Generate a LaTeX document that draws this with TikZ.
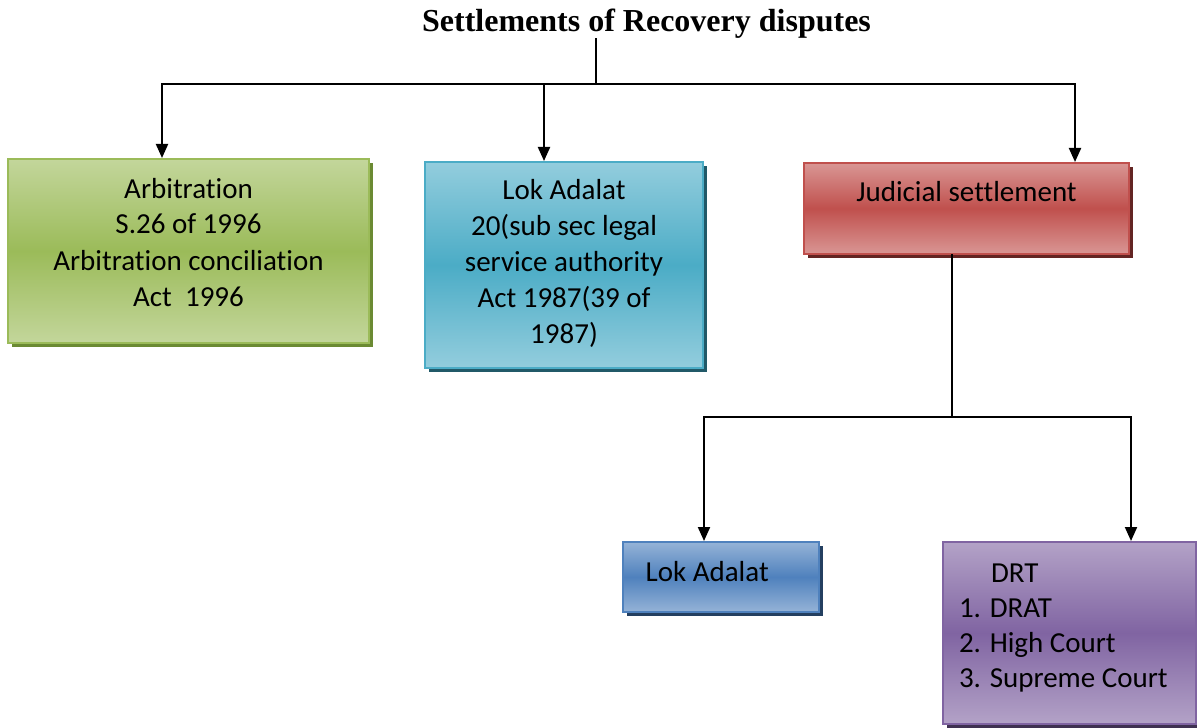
\documentclass[tikz,border=0pt]{standalone}
\usepackage{fontspec}
\setmainfont{Carlito}[Ligatures=NoCommon]
\newfontfamily\titlefont{Liberation Serif}
\usetikzlibrary{arrows.meta, shadows}
\definecolor{grnL}{HTML}{C3D69B}
\definecolor{grnM}{HTML}{9BBB59}
\definecolor{grnS}{HTML}{6B8A33}
\definecolor{aquL}{HTML}{93CDDD}
\definecolor{aquM}{HTML}{4BACC6}
\definecolor{aquS}{HTML}{215968}
\definecolor{redL}{HTML}{D99694}
\definecolor{redM}{HTML}{C0504D}
\definecolor{redS}{HTML}{632523}
\definecolor{bluL}{HTML}{95B3D7}
\definecolor{bluM}{HTML}{4F81BD}
\definecolor{bluS}{HTML}{243F60}
\definecolor{vioL}{HTML}{B3A2C7}
\definecolor{vioM}{HTML}{8064A2}
\definecolor{vioS}{HTML}{3F3151}

\begin{document}
\begin{tikzpicture}[x=0.5pt, y=-0.5pt,
      bx/.style={line width=1pt, inner sep=0pt, align=center,
                 font=\fontsize{14.5}{18}\selectfont},
      tone/.style n args={3}{draw=#2, top color=#1, bottom color=#1, middle color=#2,
                 general shadow={fill=#3, shadow xshift=2pt, shadow yshift=-2pt}},
      ln/.style={line width=1pt, line cap=rect},
      ar/.style={line width=1pt, -{Triangle[length=7pt, width=6pt]}}
    ]
    \useasboundingbox (0,0) rectangle (1197,727);

    \node[font=\titlefont\fontsize{16}{19}\selectfont\bfseries, inner sep=0pt, anchor=base]
          (ttl) at (646.5,32) {Settlements of Recovery disputes};

    \node[bx, tone={grnL}{grnM}{grnS}, minimum width=180.5pt,
          text height=73.5pt, text depth=18.5pt] (arb) at (188.5,251)
          {Arbitration\\S.26 of 1996\\Arbitration conciliation\\Act\ \ 1996};
    \node[bx, tone={aquL}{aquM}{aquS}, minimum width=139pt,
          text height=90.5pt, text depth=12.5pt] (lok) at (564,265)
          {Lok Adalat\\20(sub sec legal\\service authority\\Act 1987(39 of\\1987)};
    \node[bx, tone={redL}{redM}{redS}, minimum width=162.5pt,
          text height=19pt, text depth=26.5pt] (jud) at (966.5,208.5)
          {Judicial settlement};
    \node[bx, tone={bluL}{bluM}{bluS}, align=flush left, inner xsep=11.3pt, text width=75.4pt,
          text height=19.5pt, text depth=15.5pt] (lka) at (721,577)
          {Lok Adalat};
    \node[bx, tone={vioL}{vioM}{vioS}, align=flush left, inner xsep=5pt, text width=116.5pt,
          font=\fontsize{14.5}{17.5}\selectfont,
          text height=20pt, text depth=71pt] (drt) at (1069.5,633)
          {\hspace*{19pt}DRT\\\hspace*{3pt}1. DRAT\\\hspace*{3pt}2. High Court\\\hspace*{3pt}3. Supreme Court};

    % top branch
    \coordinate (root) at (596,84);
    \coordinate (hl) at (162,84);
    \coordinate (hm) at (544,84);
    \coordinate (hr) at (1075,84);
    \draw[ln] (ttl.south -| root) -- (root);
    \draw[ln] (hl) -- (hr);
    \draw[ar] (hl) -- (hl |- arb.north);
    \draw[ar] (hm) -- (hm |- lok.north);
    \draw[ar] (hr) -- (hr |- jud.north);

    % judicial branch
    \coordinate (jb) at (952,417);
    \coordinate (bl) at (704,417);
    \coordinate (br) at (1131,417);
    \draw[ln] (jud.south -| jb) -- (jb);
    \draw[ln] (bl) -- (br);
    \draw[ar] (bl) -- (bl |- lka.north);
    \draw[ar] (br) -- (br |- drt.north);
\end{tikzpicture}
\end{document}
